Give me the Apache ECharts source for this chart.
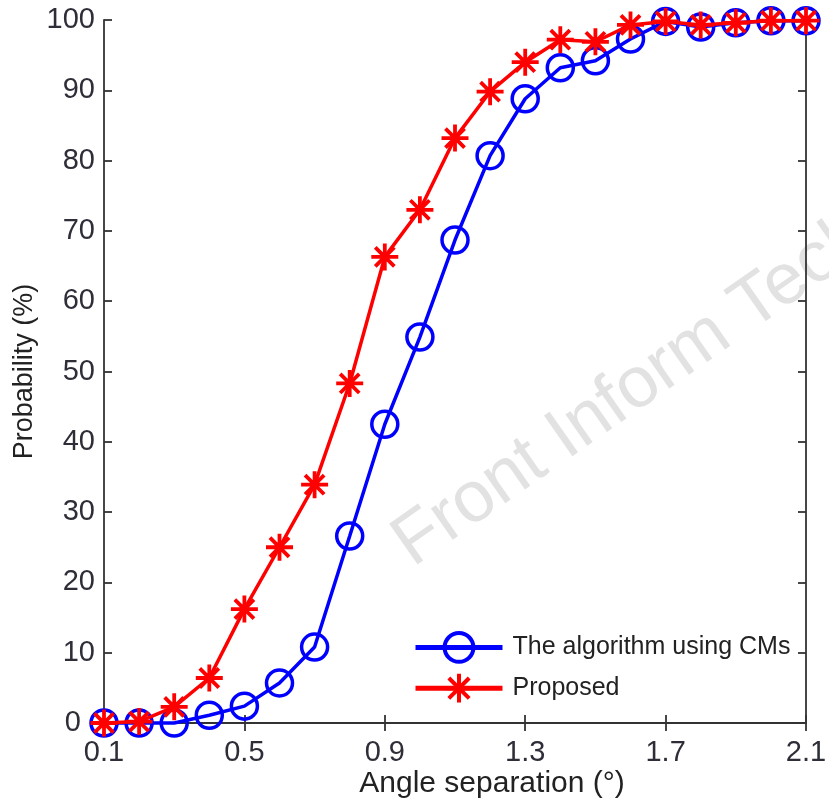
<!DOCTYPE html>
<html>
<head>
<meta charset="utf-8">
<script src="https://cdn.jsdelivr.net/npm/echarts@6/dist/echarts.min.js"></script>
<style>html,body{margin:0;padding:0;background:#fff}#c{width:829px;height:801px}</style>
</head>
<body>
<div id="c"></div>
<script>
var angles = [0.1,0.2,0.3,0.4,0.5,0.6,0.7,0.8,0.9,1.0,1.1,1.2,1.3,1.4,1.5,1.6,1.7,1.8,1.9,2.0,2.1];
var cmValues = [0,0,0,1.1,2.4,5.7,10.8,26.6,42.5,54.9,68.7,80.7,88.8,93.2,94.2,97.3,99.8,99.0,99.6,99.9,99.9];
var proposedValues = [0,0.2,2.3,6.4,16.2,25.0,33.9,48.3,66.3,73.0,83.2,89.8,94.0,97.2,96.9,99.3,99.8,99.3,99.6,99.9,99.9];
var xTicks = [0.1,0.5,0.9,1.3,1.7,2.1];
var yTicks = [0,10,20,30,40,50,60,70,80,90,100];
var seriesNames = ['The algorithm using CMs','Proposed'];

function pairs(xs, ys){ return xs.map(function(x,i){ return [x, ys[i]]; }); }

var FONT = '"Liberation Sans", Arial, sans-serif';
var AX = '#333';
var LBL = '#2e2e38';
var star = 'path://M10 0 L10 20 M0 10 L20 10 M2.93 2.93 L17.07 17.07 M17.07 2.93 L2.93 17.07';

var chart = echarts.init(document.getElementById('c'), null, {renderer:'canvas'});
chart.setOption({
  animation:false,
  backgroundColor:'#fff',
  grid:{left:104, right:23, top:20, bottom:78, containLabel:false, outerBoundsMode:'none'},
  graphic:[{
    type:'text', x:422, y:581, rotation:0.61, z:-10, silent:true,
    style:{text:'Front Inform Technology', fill:'#e2e2e2', font:'72px ' + FONT, verticalAlign:'bottom', align:'left'}
  }],
  legend:{
    left:413, top:631, padding:0, orient:'vertical', itemWidth:87, itemHeight:36, itemGap:8,
    textStyle:{fontFamily:FONT, fontSize:25, color:'#222', padding:[0,0,0,5]},
    data:[
      {name:seriesNames[0], lineStyle:{width:5, color:'#0000ff'}, itemStyle:{borderWidth:4, borderColor:'#0000ff', color:'rgba(0,0,0,0)'}},
      {name:seriesNames[1], lineStyle:{width:5, color:'#ff0000'}, itemStyle:{borderWidth:4, borderColor:'#ff0000', color:'rgba(0,0,0,0)'}}
    ]
  },
  xAxis:[{
    type:'value', min:0.1, max:2.1, interval:0.4,
    name:'Angle separation (°)', nameLocation:'middle', nameGap:46, nameMoveOverlap:false,
    nameTextStyle:{fontFamily:FONT, fontSize:30, color:'#222', padding:[0,0,0,74]},
    axisLine:{show:true, lineStyle:{color:AX, width:1.8}},
    axisTick:{show:true, inside:true, length:8, lineStyle:{color:AX, width:1.8}},
    axisLabel:{fontFamily:FONT, fontSize:29, color:LBL, margin:15, formatter:function(v){return v.toFixed(1);}},
    splitLine:{show:false}
  },{
    type:'value', position:'top', min:0.1, max:2.1, interval:0.4,
    axisLine:{show:true, lineStyle:{color:AX, width:1.8}},
    axisTick:{show:true, inside:true, length:8, lineStyle:{color:AX, width:1.8}},
    axisLabel:{show:false}, splitLine:{show:false}
  }],
  yAxis:[{
    type:'value', min:0, max:100, interval:10,
    name:'Probability (%)', nameLocation:'middle', nameGap:66, nameMoveOverlap:false,
    nameTextStyle:{fontFamily:FONT, fontSize:27, color:'#222'},
    axisLine:{show:true, lineStyle:{color:AX, width:1.8}},
    axisTick:{show:true, inside:true, length:8, lineStyle:{color:AX, width:1.8}},
    axisLabel:{fontFamily:FONT, fontSize:29, color:LBL, margin:9,
      formatter:function(v){ return v === 0 ? '{z|0}' : String(v); },
      rich:{z:{fontFamily:FONT, fontSize:29, color:LBL, padding:[0,14,0,0]}}},
    splitLine:{show:false}
  },{
    type:'value', position:'right', min:0, max:100, interval:10,
    axisLine:{show:true, lineStyle:{color:AX, width:1.8}},
    axisTick:{show:true, inside:true, length:8, lineStyle:{color:AX, width:1.8}},
    axisLabel:{show:false}, splitLine:{show:false}
  }],
  series:[{
    name:seriesNames[0], type:'line', data:pairs(angles, cmValues),
    symbol:'circle', symbolSize:26, showAllSymbol:true, clip:false,
    lineStyle:{color:'#0000ff', width:3.5},
    itemStyle:{color:'rgba(0,0,0,0)', borderColor:'#0000ff', borderWidth:3.5},
    z:2
  },{
    name:seriesNames[1], type:'line', data:pairs(angles, proposedValues),
    symbol:star, symbolSize:27, showAllSymbol:true, clip:false,
    lineStyle:{color:'#ff0000', width:3.5},
    itemStyle:{color:'rgba(0,0,0,0)', borderColor:'#ff0000', borderWidth:3.8},
    z:3
  }]
});
</script>
</body>
</html>
